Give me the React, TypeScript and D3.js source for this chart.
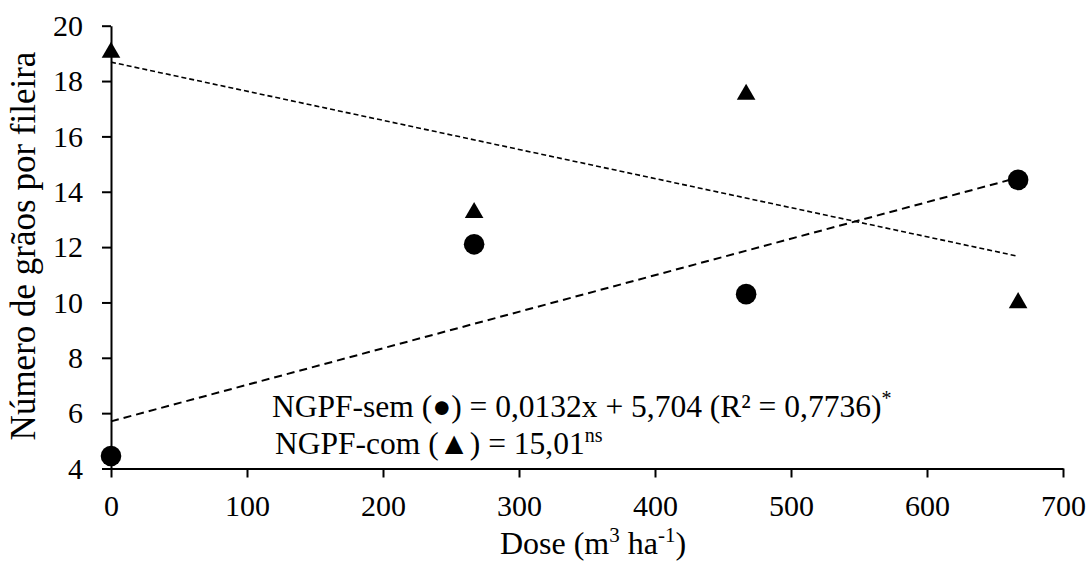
import React, { useEffect, useRef } from "react";
import * as d3 from "d3";

// Doses (m³ ha⁻¹)
const doses = [0, 267, 467, 667];
// Grains per row — without (sem) and with (com)
const semValues = [4.45, 12.1, 10.3, 14.43];
const comValues = [19.09, 13.3, 17.57, 10.04];
// Fitted equation for the "sem" series
const semSlope = 0.0132;
const semIntercept = 5.704;

const xTicks = [0, 100, 200, 300, 400, 500, 600, 700];
const yTicks = [4, 6, 8, 10, 12, 14, 16, 18, 20];

const W = 1088;
const H = 563;
const FONT = "'Liberation Serif', 'Times New Roman', serif";
const TICK_FS = 30;

function linearFit(xs: number[], ys: number[]) {
  const mx = d3.mean(xs) as number;
  const my = d3.mean(ys) as number;
  let sxy = 0;
  let sxx = 0;
  xs.forEach((x, i) => {
    sxy += (x - mx) * (ys[i] - my);
    sxx += (x - mx) * (x - mx);
  });
  const slope = sxy / sxx;
  return { slope, intercept: my - slope * mx };
}

export default function App() {
  const ref = useRef<SVGGElement>(null);

  useEffect(() => {
    const root = d3.select(ref.current);
    root.selectAll("*").remove();

    const x = d3.scaleLinear().domain([0, 700]).range([111, 1063]);
    const y = d3.scaleLinear().domain([4, 20]).range([468.5, 25.7]);

    // Trend lines
    const xEnd = d3.max(doses) as number;
    const comFit = linearFit(doses, comValues);

    root
      .append("path")
      .attr("d", d3.line<number>().x((d) => x(d)).y((d) => y(comFit.intercept + comFit.slope * d))([0, xEnd]))
      .attr("fill", "none")
      .attr("stroke", "#000")
      .attr("stroke-width", 1.6)
      .attr("stroke-dasharray", "5,3");

    root
      .append("path")
      .attr("d", d3.line<number>().x((d) => x(d)).y((d) => y(semIntercept + semSlope * d))([0, xEnd]))
      .attr("fill", "none")
      .attr("stroke", "#000")
      .attr("stroke-width", 2)
      .attr("stroke-dasharray", "8,5");

    // Axes
    const yAxis = root
      .append("g")
      .attr("transform", `translate(${x(0)},0)`)
      .call(d3.axisLeft(y).tickValues(yTicks).tickSize(9).tickSizeOuter(0).tickPadding(19));
    const xAxis = root
      .append("g")
      .attr("transform", `translate(0,${y(4)})`)
      .call(d3.axisBottom(x).tickValues(xTicks).tickSize(9).tickSizeOuter(0).tickPadding(17));

    [yAxis, xAxis].forEach((g) => {
      g.selectAll("path").attr("stroke", "#000").attr("stroke-width", 2);
      g.selectAll("line").attr("stroke", "#000").attr("stroke-width", 2);
      g.selectAll("text")
        .attr("fill", "#000")
        .style("font-family", FONT)
        .style("font-size", `${TICK_FS}px`);
    });

    // Markers
    const sym = d3.symbol().type(d3.symbolTriangle).size(150);
    root
      .append("g")
      .selectAll("path")
      .data(doses)
      .join("path")
      .attr("d", sym() as string)
      .attr("transform", (d, i) => `translate(${x(d)},${y(comValues[i]) + 1.5})`)
      .attr("fill", "#000");

    root
      .append("g")
      .selectAll("circle")
      .data(doses)
      .join("circle")
      .attr("cx", (d) => x(d))
      .attr("cy", (d, i) => y(semValues[i]))
      .attr("r", 10.3)
      .attr("fill", "#000");
  }, []);

  return (
    <svg width={W} height={H} style={{ position: "absolute", left: 0, top: 0, background: "#fff" }}>
      <g ref={ref} />
      <g style={{ fontFamily: FONT }} fill="#000">
        <text transform="translate(35,246) rotate(-90)" textAnchor="middle" fontSize={35}>
          Número de grãos por fileira
        </text>
        <text x={593} y={554} textAnchor="middle" fontSize={32}>
          Dose (m
          <tspan fontSize={21} dy={-12}>3</tspan>
          <tspan dy={12}> ha</tspan>
          <tspan fontSize={21} dy={-12}>-1</tspan>
          <tspan dy={12}>)</tspan>
        </text>
        <text x={272} y={417} fontSize={31.5}>
          NGPF-sem (●) = 0,0132x + 5,704 (R² = 0,7736)
          <tspan fontSize={20} dy={-12}>*</tspan>
        </text>
        <text x={275} y={454} fontSize={31.5}>
          NGPF-com (▲) = 15,01
          <tspan fontSize={20} dy={-12}>ns</tspan>
        </text>
      </g>
    </svg>
  );
}
